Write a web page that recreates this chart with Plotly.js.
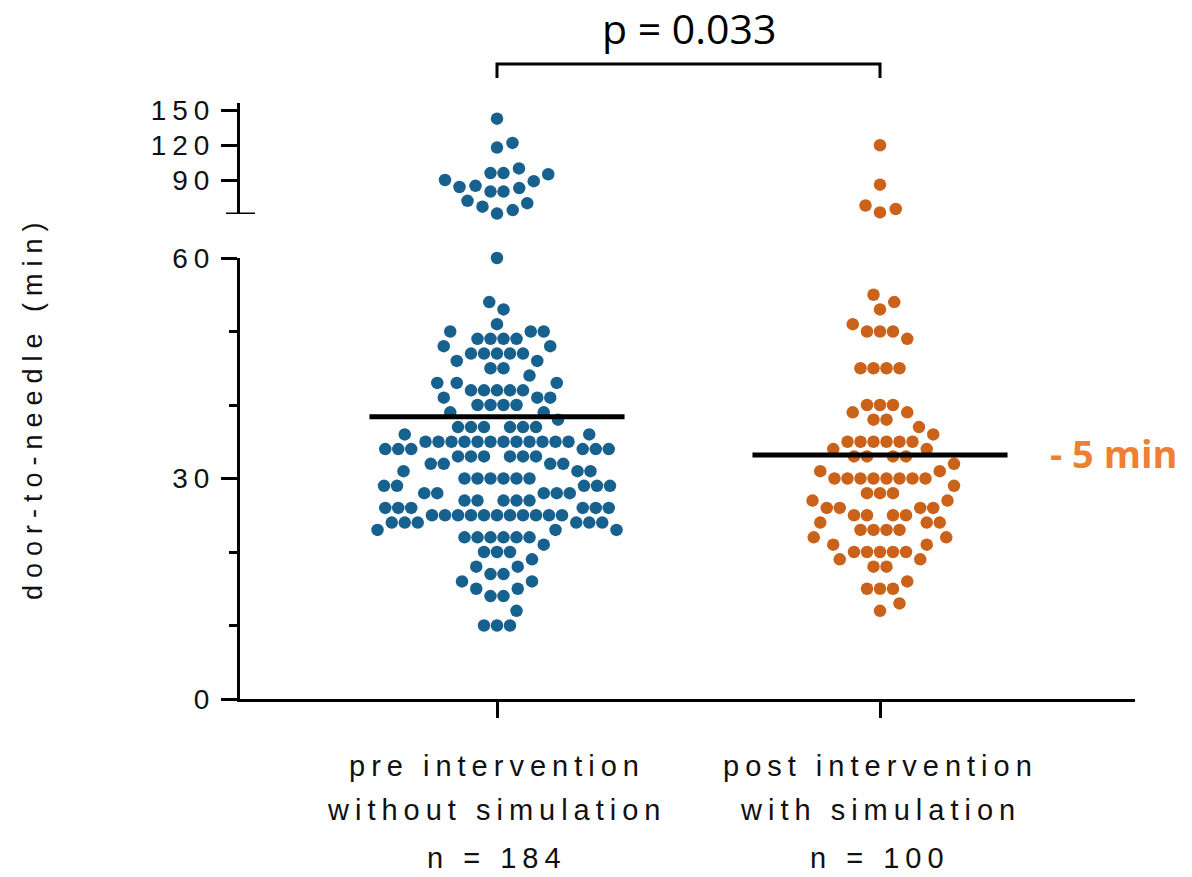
<!DOCTYPE html>
<html><head><meta charset="utf-8">
<script src="https://cdn.plot.ly/plotly-3.0.1.min.js"></script>
<style>
html,body{margin:0;padding:0;background:#fff;}
#chart{width:1192px;height:877px;}
.ytick text, .y2tick text {letter-spacing:6px;}
.annotation text {letter-spacing:6px;}
.annotation[data-index="0"] text, .annotation[data-index="1"] text {letter-spacing:0px;}
.annotation[data-index="2"] text {letter-spacing:7px;}
</style></head>
<body><div id="chart"></div>
<script>
// ---- data (minutes) ----
const groupLine1 = ["pre intervention", "post intervention"];
const groupLine2 = ["without simulation", "with simulation"];
const groupN = ["n = 184", "n = 100"];

const preVals   = [10,12,14,15,16,17,18,19,20,21,22,23,24,25,26,27,28,29,30,31,32,33,34,35,36,37,38,39,40,41,42,43,44,45,46,47,48,49,50,51,53,54,60,61,64,67,70,72,80,83,84,85,89,90,95,96,100,118,122,143];
const preCounts = [3,1,2,2,2,2,2,1,3,1,6,3,6,11,6,5,5,5,6,3,4,6,6,12,2,6,1,2,4,3,5,3,1,2,2,5,2,4,3,1,1,1,1,1,1,1,1,1,2,1,1,1,1,1,1,2,1,1,1,1];
const postVals   = [12,13,15,16,18,19,20,21,22,23,24,25,26,27,28,29,30,31,32,33,34,35,36,37,38,39,40,45,49,50,51,53,54,55,62,65,68,86,120];
const postCounts = [1,1,3,1,2,2,5,2,2,4,3,4,4,2,3,1,8,2,1,4,2,6,1,1,2,2,3,4,1,3,1,1,1,1,1,1,1,1,1];
const groupMeans = [38.4, 33.2];
const pText = "p = 0.033";
const diffText = "- 5 min";
const yTitle = "door-to-needle (min)";
const lowerTicks = [0, 30, 60];
const upperTicks = [90, 120, 150];

// ---- layout geometry ----
const W = 1192, H = 877;
const M = {l: 240, r: 57, t: 103, b: 178};
const plotW = W - M.l - M.r, plotH = H - M.t - M.b;
const xr = [-257/383, 638/383];
const lowerRange = [0, 60];
const lowerDom = [0, 441/plotH];
const upperDom = [485/plotH, 1];
const upperRange = [60.65, 156.5];
const breakAt = 60.5;
const colors = ["#17618F", "#CB6219"];

const xPx = plotW / (xr[1] - xr[0]);
const pxLower = plotH * (lowerDom[1] - lowerDom[0]) / (lowerRange[1] - lowerRange[0]);
const pxUpper = plotH * (upperDom[1] - upperDom[0]) / (upperRange[1] - upperRange[0]);
function toPy(v) {
  if (v <= breakAt) return plotH * (1 - lowerDom[1]) + (lowerRange[1] - v) * pxLower;
  return (upperRange[1] - v) * pxUpper;
}

const SAME_ROW = 13, OTHER_ROW = 16;
function swarm(vals, counts) {
  const placed = [];
  const out = [];
  const ok = (x, py) => placed.every(p => {
    const dy = Math.abs(p.y - py), dx = p.x - x;
    const d = dy < 0.5 ? SAME_ROW : OTHER_ROW;
    return dx*dx + dy*dy >= d*d - 1e-6;
  });
  // rows with most points are laid out first, then the rest
  const order = vals.map((v, i) => i).sort((a, b) => (counts[b] - counts[a]) || (vals[a] - vals[b]));
  order.forEach(i => {
    const v = vals[i], n = counts[i], py = toPy(v);
    let left = n;
    if (n % 2 === 1) {
      let x = 0;
      while (!ok(x, py) && !ok(-x, py)) x += 0.25;
      const cx = ok(x, py) ? x : -x;
      placed.push({x: cx, y: py}); out.push({v, x: cx}); left--;
    }
    while (left > 0) {
      let x = SAME_ROW / 2;
      while (!(ok(x, py) && ok(-x, py))) x += 0.25;
      placed.push({x: x, y: py}); out.push({v, x: x});
      placed.push({x: -x, y: py}); out.push({v, x: -x});
      left -= 2;
    }
  });
  return out;
}

const traces = [];
[[preVals, preCounts], [postVals, postCounts]].forEach(([vals, counts], g) => {
  const pts = swarm(vals, counts);
  const lo = pts.filter(p => p.v <= breakAt), hi = pts.filter(p => p.v > breakAt);
  [[lo, 'y'], [hi, 'y2']].forEach(([arr, ax]) => {
    traces.push({
      type: 'scatter', mode: 'markers', yaxis: ax, cliponaxis: false, hoverinfo: 'skip',
      x: arr.map(p => g + p.x / xPx), y: arr.map(p => p.v),
      marker: {size: 12.5, color: colors[g], line: {width: 0}}
    });
  });
  traces.push({
    type: 'scatter', mode: 'lines', yaxis: 'y', cliponaxis: false, hoverinfo: 'skip',
    x: [g - 0.333, g + 0.333], y: [groupMeans[g], groupMeans[g]],
    line: {color: '#000', width: 5}
  });
});

const tickFont = {family: 'Liberation Sans, Arial, sans-serif', size: 28, color: '#111'};
const labelFont = {family: 'Liberation Sans, Arial, sans-serif', size: 29, color: '#111'};
const toPaperY = py => (H - M.b - py) / plotH;

const annotations = [
  {text: pText, xref: 'x', yref: 'paper', x: 0.5, y: toPaperY(28), showarrow: false,
   xanchor: 'center', yanchor: 'middle', font: {family: 'Open Sans, sans-serif', size: 41, color: '#000'}},
  {text: '<b>' + diffText + '</b>', xref: 'x', yref: 'y', x: (1048 - M.l) / xPx + xr[0], y: groupMeans[1] + 0.3,
   showarrow: false, xanchor: 'left', yanchor: 'middle', font: {family: 'Open Sans, sans-serif', size: 38, color: '#EE7F33'}},
  {text: yTitle, xref: 'paper', yref: 'paper', x: (33 - M.l) / plotW, y: toPaperY(408), textangle: -90,
   showarrow: false, xanchor: 'center', yanchor: 'middle', font: {family: 'Liberation Sans, Arial, sans-serif', size: 27, color: '#111'}}
];
[groupLine1, groupLine2, groupN].forEach((lines, k) => {
  const py = [766, 810, 858][k];
  lines.forEach((t, g) => annotations.push({
    text: t, xref: 'x', yref: 'paper', x: g, y: toPaperY(py), showarrow: false,
    xanchor: 'center', yanchor: 'middle', font: labelFont
  }));
});

const layout = {
  width: W, height: H, margin: M, showlegend: false,
  paper_bgcolor: '#fff', plot_bgcolor: '#fff',
  xaxis: {range: xr, anchor: 'y', showline: true, linewidth: 3, linecolor: '#000',
    ticks: 'outside', ticklen: 16, tickwidth: 3, tickcolor: '#000', tickvals: [0, 1],
    showticklabels: false, showgrid: false, zeroline: false, fixedrange: true},
  yaxis: {domain: lowerDom, range: lowerRange, anchor: 'x', showline: true, linewidth: 3, linecolor: '#000',
    tickmode: 'array', tickvals: lowerTicks, ticks: 'outside', ticklen: 16, tickwidth: 3, tickcolor: '#000',
    minor: {dtick: 10, tick0: 0, ticks: 'outside', ticklen: 8, tickwidth: 3, tickcolor: '#000', showgrid: false},
    tickfont: tickFont, showgrid: false, zeroline: false, fixedrange: true},
  yaxis2: {domain: upperDom, range: upperRange, anchor: 'x', showline: true, linewidth: 3, linecolor: '#000',
    tickmode: 'array', tickvals: upperTicks, ticks: 'outside', ticklen: 16, tickwidth: 3, tickcolor: '#000',
    tickfont: tickFont, showgrid: false, zeroline: false, fixedrange: true},
  shapes: [
    {type: 'line', xref: 'paper', xsizemode: 'pixel', xanchor: 0, x0: -14, x1: 15,
     yref: 'y2', y0: upperRange[0], y1: upperRange[0], line: {color: '#000', width: 3}},
    {type: 'path', xref: 'x', yref: 'paper',
     path: `M 0,${toPaperY(78)} L 0,${toPaperY(64)} L 1,${toPaperY(64)} L 1,${toPaperY(78)}`,
     line: {color: '#000', width: 3}}
  ],
  annotations
};

Plotly.newPlot('chart', traces, layout, {staticPlot: true, displayModeBar: false});
</script></body></html>
